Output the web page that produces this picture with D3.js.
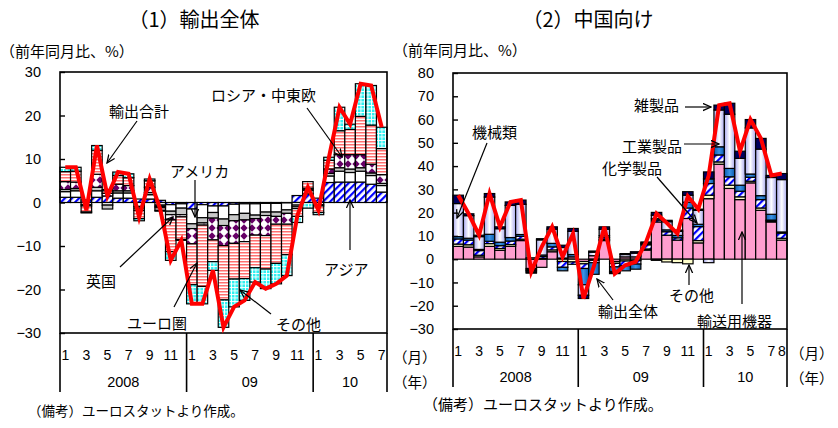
<!DOCTYPE html>
<html>
<head>
<meta charset="utf-8">
<script src="https://cdn.jsdelivr.net/npm/d3@7"></script>
<style>
  body { margin: 0; background: #fff; }
  text { font-family: "Liberation Sans", Arial, sans-serif; fill: #000; }
  .jp { font-family: "Noto Sans CJK JP", sans-serif; }
</style>
</head>
<body>
<script>
// ---- data: (1) exports total, contributions by region (2008/1 - 2010/7)
const asia1    = [1.2,1.2,0.6,1.2,1.5,1.0,1.0,0.8,0.8,0.5,-0.5,-0.3, -1.5,-0.5,-0.8,-0.8,-0.4,-0.3,-0.3,-0.2,-0.2,-0.1,1.6,2.0, 1.0,4.6,4.7,4.7,4.7,4.2,2.4];
const america1 = [1.3,1.5,-0.5,1.5,-0.6,1.2,1.2,-0.9,1.0,-0.6,-1.5,-1.0, -3.4,-3.0,-1.5,-3.0,-2.4,-2.2,-2.6,-2.0,-2.0,-1.6,-0.6,0.8, -0.5,1.5,2.5,2.2,2.5,2.0,1.5];
const uk1      = [0.5,0.5,-0.3,0.8,-0.9,0.5,0.5,-0.4,0.5,-0.3,-0.8,-1.5, -1.1,-1.2,-1.3,-1.5,-1.4,-1.5,-0.8,-0.8,-1.0,-0.8,-0.4,0.3, -0.3,0.6,0.8,0.8,0.8,0.6,0.5];
const russia1  = [1.8,1.5,0,3.0,0.6,1.5,1.2,-0.5,1.2,-0.3,-1.2,-0.5, -3.5,-0.5,-5.0,-4.6,-5.2,-5.0,-3.8,-4.6,-1.8,-2.5,-0.4,0.2, 0,1.0,3.0,3.3,3.0,2.0,2.0];
const euro1    = [2.3,2.5,-1.4,5.5,0.6,2.0,1.8,-1.9,1.5,-0.6,-7.3,-5.2, -9.4,-14.1,-5.0,-12.5,-8.2,-8.5,-7.5,-7.7,-9.0,-7.0,-1.8,1.5, -1.5,2.0,5.5,5.8,8.8,9.0,6.0];
const other1   = [1.0,0.9,-0.2,1.1,0.3,0.8,0.9,-0.5,0.4,-0.2,-2.0,-0.2, -4.4,-4.0,-2.0,-6.3,-6.4,-5.0,-3.3,-4.5,-4.7,-4.8,-1.4,-1.3, -0.5,0.7,5.4,1.2,7.5,9.1,4.9];
const total1   = [8.1,8.1,-1.8,13.1,1.5,7.0,6.6,-3.4,5.4,-1.5,-13.3,-8.7, -23.3,-23.3,-15.6,-28.7,-24.0,-22.5,-18.3,-19.8,-18.7,-16.8,-3.0,3.5, -1.8,10.4,21.9,18.0,27.3,26.9,17.3];
const monthTicks1 = ["1","","3","","5","","7","","9","","11","", "1","","3","","5","","7","","9","","11","", "1","","3","","5","","7"];
const years1 = ["2008","09","10"];
const yearSpan1 = [12,12,7];
const yTicks1 = [30,20,10,0,-10,-20,-30];

// ---- data: (2) exports to China, contributions by product (2008/1 - 2010/8)
const trans2 = [5.5,5.2,1.0,5.5,3.8,5.5,8.0,-4.0,-3.5,3.2,0.5,1.0, -1.0,1.5,8.0,-1.0,1.0,1.0,3.9,16.0,10.3,8.2,17.5,7.0, 26.0,40.8,30.4,25.6,32.8,21.0,16.0,8.2];
const other2 = [1.0,1.0,0.7,1.2,0.8,0.8,0.6,-0.5,0.3,0.8,-1.0,-1.2, -1.0,-0.5,0.5,-0.8,-0.8,-0.6,0.5,-0.5,-1.2,-1.5,-2.0,1.0, 1.5,1.0,1.4,1.2,0.7,1.0,0.5,0.8];
const chem2  = [2.2,2.0,2.0,1.0,1.2,1.5,1.2,-0.4,0.8,1.3,-2.5,-1.0, -2.0,-1.0,0.8,-1.5,-2.0,-1.5,1.8,0.8,1.5,1.0,4.5,6.0, 5.0,3.0,3.6,2.4,1.7,3.6,0.3,2.2];
const ind2   = [1.0,0.8,0.5,3.0,1.5,1.5,0.8,-0.6,0.7,1.5,-1.5,1.0, -7.0,-5.0,0.8,-2.0,-2.2,-2.2,0.5,0.6,0.8,1.0,2.5,1.0, 2.0,3.5,3.6,2.6,1.4,1.7,2.5,0.5];
const mach2  = [14.2,9.7,5.5,16.0,5.8,13.8,13.0,0.6,6.5,6.1,4.5,10.0, -4.5,1.5,2.8,-0.5,1.0,1.6,0.3,1.5,3.5,1.8,3.0,6.0, -1.5,15.8,23.3,11.5,19.8,20.0,15.8,22.5];
const misc2  = [3.6,0.8,0.6,1.5,0.8,1.5,1.8,-0.5,0.5,1.0,1.0,1.2, -1.4,0.5,1.0,-0.4,0.4,0.6,0.4,1.2,0.6,0.5,1.5,0.5, 3.0,2.1,4.7,3.1,3.6,4.6,0.9,2.6];
const total2 = [27.5,19.5,10.3,28.2,13.9,24.6,25.4,-5.4,5.3,13.9,1.0,11.0, -16.9,-3.0,13.9,-6.2,-2.6,-1.1,7.4,19.6,15.5,11.0,27.0,21.5, 36.0,66.2,67.0,46.4,60.0,51.9,36.0,36.8];
const monthTicks2 = ["1","","3","","5","","7","","9","","11","", "1","","3","","5","","7","","9","","11","", "1","","3","","5","","7","8"];
const years2 = ["2008","09","10"];
const yearSpan2 = [12,12,8];
const yTicks2 = [80,70,60,50,40,30,20,10,0,-10,-20,-30];

const svg = d3.select("body").append("svg")
    .attr("width", 838)
    .attr("height", 428);
const defs = svg.append("defs");

// fill patterns
function addPattern(id, w, h, bg, transform) {
  const p = defs.append("pattern").attr("id", id)
    .attr("patternUnits", "userSpaceOnUse")
    .attr("width", w).attr("height", h);
  if (transform) p.attr("patternTransform", transform);
  p.append("rect").attr("width", w).attr("height", h).attr("fill", bg);
  return p;
}
addPattern("hatch", 5, 5, "#fff", "rotate(45)")
  .append("rect").attr("width", 2.2).attr("height", 5).attr("fill", "#0000ff");
addPattern("stripes", 4, 3, "#fff")
  .append("rect").attr("width", 4).attr("height", 1.5).attr("fill", "#ff7070");
const grid = addPattern("grid", 3.5, 3.5, "#2ff0f0");
grid.append("rect").attr("width", 3.5).attr("height", 0.9).attr("fill", "#fff");
grid.append("rect").attr("width", 0.9).attr("height", 3.5).attr("fill", "#fff");
addPattern("diam", 8, 8, "#fff")
  .append("path").attr("d", "M4,0.3L7.7,4L4,7.7L0.3,4Z").attr("fill", "#660066");

const lav = defs.append("linearGradient").attr("id", "lav").attr("x1", 0).attr("x2", 1).attr("y1", 0).attr("y2", 0);
lav.append("stop").attr("offset", 0).attr("stop-color", "#a8a8ee");
lav.append("stop").attr("offset", 0.5).attr("stop-color", "#ffffff");
lav.append("stop").attr("offset", 1).attr("stop-color", "#a8a8ee");
const blu = defs.append("linearGradient").attr("id", "blu").attr("x1", 0).attr("x2", 1).attr("y1", 0).attr("y2", 0);
blu.append("stop").attr("offset", 0).attr("stop-color", "#0b5cae");
blu.append("stop").attr("offset", 0.5).attr("stop-color", "#3b93e6");
blu.append("stop").attr("offset", 1).attr("stop-color", "#0b5cae");

defs.append("marker").attr("id", "arr")
  .attr("viewBox", "0 0 10 10").attr("refX", 9).attr("refY", 5)
  .attr("markerWidth", 9).attr("markerHeight", 9)
  .attr("markerUnits", "userSpaceOnUse").attr("orient", "auto")
  .append("path").attr("d", "M0,1L9,5L0,9").attr("fill", "none")
  .attr("stroke", "#000").attr("stroke-width", 1.4);

function drawPanel(p) {
  const x = d3.scaleBand().domain(d3.range(p.total.length)).range([p.left, p.right]).padding(0);
  const y = d3.scaleLinear().domain([p.yTicks[p.yTicks.length - 1], p.yTicks[0]]).range([p.bottom, p.top]);
  const bw = x.bandwidth();

  const series = d3.stack().keys(p.keys).offset(d3.stackOffsetDiverging)(p.rows);

  svg.append("g").selectAll("g")
    .data(series)
    .join("g")
      .attr("fill", d => p.fills[d.key])
    .selectAll("rect")
    .data(d => d)
    .join("rect")
      .attr("x", (d, i) => x(i))
      .attr("width", bw)
      .attr("y", d => y(Math.max(d[0], d[1])))
      .attr("height", d => Math.abs(y(d[0]) - y(d[1])))
      .attr("stroke", "#000")
      .attr("stroke-width", 1.2);

  // frame
  svg.append("rect")
    .attr("x", p.left).attr("y", p.top)
    .attr("width", p.right - p.left).attr("height", p.bottom - p.top)
    .attr("fill", "none").attr("stroke", "#000").attr("stroke-width", 1.6);

  // y axis, ticks inside
  const ax = svg.append("g")
    .attr("transform", `translate(${p.left},0)`)
    .call(d3.axisLeft(y).tickValues(p.yTicks).tickSizeInner(-5).tickSizeOuter(0).tickPadding(19).tickFormat(d3.format("d")));
  ax.select(".domain").remove();
  ax.selectAll("line").attr("stroke-width", 1.4);
  ax.selectAll("text").attr("font-size", 14.5).attr("font-family", "Liberation Sans, Arial, sans-serif");

  // month labels
  svg.append("g").selectAll("text")
    .data(p.monthTicks)
    .join("text")
      .attr("x", (d, i) => x(i) + bw / 2)
      .attr("y", p.monthY)
      .attr("text-anchor", "middle")
      .attr("dominant-baseline", "central")
      .attr("font-size", 14)
      .text(d => d);

  // year labels and dividers
  let start = 0;
  const edges = [0];
  p.yearSpan.forEach((n, k) => {
    const x0 = x(start), x1 = x(start) + n * bw;
    svg.append("text")
      .attr("x", (x0 + x1) / 2).attr("y", p.yearY)
      .attr("text-anchor", "middle").attr("dominant-baseline", "central")
      .attr("font-size", 14.5)
      .text(p.years[k]);
    start += n;
    edges.push(start);
  });
  svg.append("g").selectAll("line")
    .data(edges)
    .join("line")
      .attr("x1", d => d < p.total.length ? x(d) : p.right)
      .attr("x2", d => d < p.total.length ? x(d) : p.right)
      .attr("y1", p.bottom).attr("y2", p.axisBottom)
      .attr("stroke", "#000").attr("stroke-width", 1.6);

  // total line
  svg.append("path")
    .datum(p.total)
    .attr("fill", "none")
    .attr("stroke", "#ff0000")
    .attr("stroke-width", 4)
    .attr("stroke-linejoin", "miter")
    .attr("d", d3.line().x((d, i) => x(i) + bw / 2).y(d => y(d)));

  return {x, y};
}

const rows1 = total1.map((t, i) => ({asia: asia1[i], america: america1[i], uk: uk1[i], russia: russia1[i], euro: euro1[i], other: other1[i]}));
drawPanel({
  keys: ["asia", "america", "uk", "russia", "euro", "other"],
  rows: rows1, total: total1,
  fills: {asia: "url(#hatch)", america: "#fff", uk: "#c8c8c8", russia: "url(#diam)", euro: "url(#stripes)", other: "url(#grid)"},
  left: 60, right: 387, top: 72, bottom: 333, axisBottom: 392,
  yTicks: yTicks1, monthTicks: monthTicks1, years: years1, yearSpan: yearSpan1,
  monthY: 355, yearY: 382
});

const rows2 = total2.map((t, i) => ({trans: trans2[i], other: other2[i], chem: chem2[i], ind: ind2[i], mach: mach2[i], misc: misc2[i]}));
drawPanel({
  keys: ["trans", "other", "chem", "ind", "mach", "misc"],
  rows: rows2, total: total2,
  fills: {trans: "#ff9fcf", other: "#ffffcc", chem: "url(#hatch)", ind: "url(#blu)", mach: "url(#lav)", misc: "#00005e"},
  left: 453, right: 787, top: 73, bottom: 329, axisBottom: 387,
  yTicks: yTicks2, monthTicks: monthTicks2, years: years2, yearSpan: yearSpan2,
  monthY: 351, yearY: 377
});

// titles and units
function jtext(str, x, y, size, anchor) {
  svg.append("text").attr("class", "jp")
    .attr("x", x).attr("y", y)
    .attr("font-size", size)
    .attr("text-anchor", anchor || "start")
    .attr("dominant-baseline", "central")
    .text(str);
}
jtext("（1）輸出全体", 194, 18, 20, "middle");
jtext("（2）中国向け", 588, 18, 20, "middle");
jtext("（前年同月比、%）", 0, 50, 15);
jtext("（前年同月比、%）", 393, 49, 15);
jtext("（月）", 393, 356, 14.5);
jtext("（年）", 393, 381, 14.5);
jtext("（月）", 790, 352, 14.5);
jtext("（年）", 790, 377, 14.5);
jtext("（備考）ユーロスタットより作成。", 28, 410, 13.5);
jtext("（備考）ユーロスタットより作成。", 423, 403, 15);

// annotations
function arrow(x1, y1, x2, y2) {
  svg.append("line").attr("x1", x1).attr("y1", y1).attr("x2", x2).attr("y2", y2)
    .attr("stroke", "#000").attr("stroke-width", 1.2).attr("marker-end", "url(#arr)");
}
jtext("輸出合計", 109, 110, 15);
arrow(137, 121, 107, 163);
jtext("アメリカ", 170, 170, 15);
arrow(195, 180, 195, 217);
jtext("英国", 86, 280, 15);
arrow(120, 267, 173, 217);
jtext("ユーロ圏", 127, 322, 15);
arrow(174, 307, 197, 263);
jtext("ロシア・中東欧", 211, 94, 15);
arrow(307, 108, 342, 157);
jtext("アジア", 324, 268, 15);
arrow(350, 250, 350, 200);
jtext("その他", 276, 323, 15);
arrow(271, 314, 240, 290);

jtext("機械類", 472, 131, 15);
arrow(487, 143, 457, 218);
jtext("雑製品", 634, 104, 15);
arrow(685, 107, 711, 107);
jtext("工業製品", 622, 145, 15);
arrow(684, 144, 719, 144);
jtext("化学製品", 602, 167, 15);
arrow(657, 177, 697, 223);
jtext("輸出全体", 598, 310, 15);
arrow(613, 300, 597, 279);
jtext("その他", 669, 294, 15);
arrow(689, 285, 689, 265);
jtext("輸送用機器", 697, 320, 15);
arrow(742, 304, 742, 232);
</script>
</body>
</html>
